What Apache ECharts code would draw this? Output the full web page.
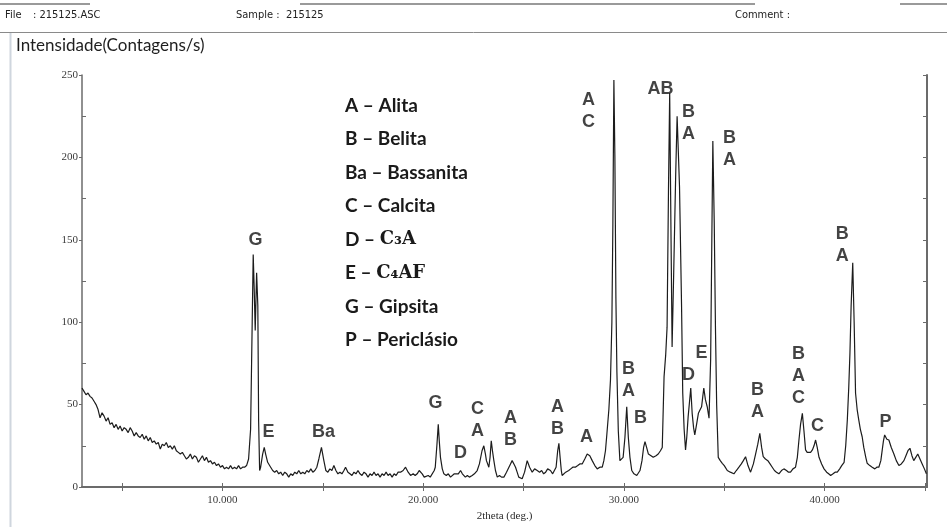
<!DOCTYPE html>
<html>
<head>
<meta charset="utf-8">
<script src="https://cdn.jsdelivr.net/npm/echarts@6/dist/echarts.min.js"></script>
<style>
  html, body { margin: 0; padding: 0; background: #fff; }
  #chart { width: 947px; height: 527px; }
</style>
</head>
<body>
<div id="chart"></div>
<script>
// XRD scan of sample 215125: [2theta (deg), counts/s], split by angular range
const scan03to12 = [
  [3.0,60],[3.1,58],[3.2,56],[3.3,57],[3.4,55],[3.5,54],[3.6,52],[3.7,50],[3.8,47],[3.9,42],
  [4.0,45],[4.1,43],[4.2,40],[4.3,42],[4.4,38],[4.5,39],[4.6,36],[4.7,38],[4.8,35],[4.9,37],
  [5.0,34],[5.1,36],[5.2,35],[5.3,33],[5.4,36],[5.5,34],[5.6,31],[5.7,33],[5.8,31],[5.9,30],
  [6.0,32],[6.1,29],[6.2,31],[6.3,28],[6.4,30],[6.5,27],[6.6,28],[6.7,26],[6.8,27],[6.9,23],
  [7.0,26],[7.1,25],[7.2,27],[7.3,24],[7.4,25],[7.5,23],[7.6,25],[7.7,22],[7.8,21],[7.9,20],
  [8.0,21],[8.1,19],[8.2,17],[8.3,18],[8.4,20],[8.5,17],[8.6,19],[8.7,18],[8.8,15],[8.9,17],
  [9.0,19],[9.1,16],[9.2,18],[9.3,15],[9.4,16],[9.5,14],[9.6,15],[9.7,13],[9.8,14],[9.9,12],
  [10.0,13],[10.1,11],[10.2,12],[10.3,11],[10.4,13],[10.5,11],[10.6,12],[10.7,11],[10.8,13],[10.9,11],
  [11.0,12],[11.1,12],[11.2,13],[11.3,17],[11.4,35],[11.48,100],[11.53,141],[11.58,120],[11.63,95],
  [11.7,130],[11.76,110],[11.8,40],[11.85,10],[11.9,12],[12.0,20]
];
const scan12to20 = [
  [12.08,24],[12.15,20],[12.25,15],[12.4,12],[12.5,10],[12.6,9],[12.7,10],[12.8,8],[12.9,9],
  [13.0,7],[13.1,9],[13.2,8],[13.3,6],[13.4,8],[13.5,7],[13.6,9],[13.7,8],[13.8,10],[13.9,8],
  [14.0,9],[14.1,8],[14.2,10],[14.3,9],[14.4,11],[14.5,9],[14.6,10],[14.7,12],[14.8,17],[14.93,24],
  [15.05,16],[15.15,10],[15.25,9],[15.35,11],[15.45,10],[15.55,13],[15.65,10],[15.75,8],[15.85,9],
  [15.95,8],[16.05,10],[16.13,12],[16.25,9],[16.35,8],[16.45,7],[16.55,9],[16.65,8],[16.75,10],
  [16.85,8],[16.95,7],[17.05,9],[17.15,8],[17.25,6],[17.35,8],[17.45,7],[17.55,9],[17.65,7],
  [17.75,8],[17.85,6],[17.95,8],[18.05,7],[18.15,9],[18.25,7],[18.35,8],[18.45,6],[18.55,8],
  [18.65,7],[18.75,9],[18.87,9],[19.0,10],[19.12,12],[19.25,9],[19.37,7],[19.5,8],[19.6,7],
  [19.7,8],[19.8,10],[19.87,10],[19.95,8]
];
const scan20to29 = [
  [20.05,6],[20.11,6],[20.25,7],[20.35,6],[20.44,7],[20.55,10],[20.6,12],[20.68,25],[20.75,38],
  [20.8,28],[20.86,18],[20.95,11],[21.03,8],[21.15,7],[21.25,8],[21.36,6],[21.45,7],[21.55,8],
  [21.61,7],[21.75,8],[21.86,10],[21.95,8],[22.1,6],[22.2,7],[22.3,6],[22.44,7],[22.55,8],
  [22.69,10],[22.8,14],[22.93,22],[23.02,25],[23.1,20],[23.15,16],[23.27,12],[23.33,18],[23.39,28],
  [23.45,22],[23.52,16],[23.6,10],[23.69,6],[23.8,7],[23.9,6],[24.02,6],[24.15,9],[24.27,12],
  [24.35,14],[24.43,16],[24.52,14],[24.6,12],[24.68,9],[24.76,6],[24.85,6],[24.93,5],[25.05,9],
  [25.18,16],[25.3,12],[25.43,9],[25.55,11],[25.68,10],[25.8,9],[25.9,10],[26.0,8],[26.1,9],
  [26.2,11],[26.34,10],[26.45,8],[26.54,7],[26.62,12],[26.7,22],[26.76,26.5],[26.82,18],[26.88,10],
  [26.92,7],[27.0,8],[27.1,9],[27.25,10],[27.35,11],[27.45,12],[27.58,12],[27.7,13],[27.8,14],
  [27.92,14],[28.05,17],[28.17,20],[28.3,19],[28.42,16],[28.55,13],[28.67,11],[28.8,12],[28.92,12]
];
const scan29to35 = [
  [29.0,16],[29.08,22],[29.15,32],[29.25,47],[29.33,65],[29.4,100],[29.45,160],[29.5,247],[29.55,200],
  [29.6,115],[29.65,70],[29.72,34],[29.8,16],[29.88,17],[29.96,18],[30.05,30],[30.14,48.7],[30.22,30],
  [30.3,18],[30.39,10],[30.5,8],[30.64,7],[30.8,10],[30.9,16],[30.98,24],[31.05,27.5],[31.13,24],
  [31.22,20],[31.35,19],[31.46,18],[31.6,19],[31.71,20],[31.82,22],[31.91,24],[32.0,67],[32.08,80],
  [32.15,97],[32.22,180],[32.28,239],[32.34,160],[32.4,85],[32.48,130],[32.58,190],[32.65,225],
  [32.72,200],[32.77,182],[32.87,111],[32.93,57],[33.0,35],[33.07,22.5],[33.13,30],[33.2,42.7],
  [33.27,52],[33.33,60],[33.4,44.7],[33.47,36],[33.53,31.6],[33.62,38],[33.71,44.7],[33.8,47],
  [33.87,48.7],[33.93,55],[33.98,60],[34.06,53],[34.15,48.7],[34.24,41.7],[34.32,77],[34.38,150],
  [34.43,210],[34.5,160],[34.56,97],[34.62,50],[34.7,18],[34.8,16],[34.9,14.4]
];
const scan35to45 = [
  [35.0,13],[35.15,10],[35.3,9],[35.48,8],[35.6,10],[35.73,12],[35.85,14],[35.95,16],[36.06,18.4],
  [36.18,13],[36.31,9],[36.45,14],[36.56,20],[36.67,26],[36.77,32.6],[36.86,24],[36.94,18.4],
  [37.05,17],[37.17,16],[37.28,14],[37.39,12],[37.5,10],[37.6,9],[37.72,8],[37.85,10],[37.97,11],
  [38.1,10],[38.2,9],[38.3,9],[38.42,11],[38.55,12],[38.64,18],[38.72,28.5],[38.8,38],[38.89,44.7],
  [38.97,34],[39.05,22.5],[39.13,21],[39.22,20],[39.3,21],[39.39,22.5],[39.47,25],[39.55,28.5],
  [39.63,24],[39.72,18],[39.85,14],[39.97,11],[40.1,9],[40.2,8],[40.3,7],[40.42,8],[40.52,9],
  [40.63,9],[40.75,11],[40.85,13],[40.97,15],[41.05,25],[41.13,40.7],[41.2,60],[41.26,81],
  [41.32,110],[41.4,136],[41.47,100],[41.54,57],[41.62,47],[41.7,40.7],[41.78,35],[41.87,30.5],
  [41.95,24],[42.05,18],[42.12,14.4],[42.25,13],[42.37,12],[42.5,11],[42.6,12],[42.7,12],[42.8,16],
  [42.87,22.5],[42.93,28],[42.99,31.6],[43.1,29],[43.2,28.5],[43.32,24],[43.45,20],[43.57,16],
  [43.7,13],[43.82,14],[43.95,16],[44.05,19],[44.15,22],[44.25,23.5],[44.35,19],[44.44,16],
  [44.54,18],[44.64,20],[44.75,17],[44.86,14],[44.97,11],[45.07,8]
];

// Phase identification tags: [2theta, intensity at tag centre, letters]
const peakTags = [
  [11.64, 150, 'G'], [12.29, 33.5, 'E'], [15.03, 33.5, 'Ba'], [20.61, 51, 'G'],
  [21.86, 20.5, 'D'], [22.7, 40.7, 'C\nA'], [24.35, 34.9, 'A\nB'], [26.69, 41.6, 'A\nB'],
  [28.14, 30.3, 'A'], [28.24, 228, 'A\nC'], [31.82, 241.5, 'AB'], [33.22, 220.6, 'B\nA'],
  [35.26, 205, 'B\nA'], [30.23, 65, 'B\nA'], [30.83, 41.9, 'B'], [33.22, 68, 'D'],
  [33.87, 81.3, 'E'], [36.66, 52.2, 'B\nA'], [38.7, 67.4, 'B\nA\nC'], [39.64, 37, 'C'],
  [40.88, 146.8, 'B\nA'], [43.03, 39.4, 'P']
];

// Phase key
const phaseCodes = ['A', 'B', 'Ba', 'C', 'D', 'E', 'G', 'P'];
const phaseNames = ['Alita', 'Belita', 'Bassanita', 'Calcita', 'C₃A', 'C₄AF', 'Gipsita', 'Periclásio'];
const formulaPhases = ['C₃A', 'C₄AF'];

// Axis ticks
const xTickValues = [5, 10, 15, 20, 25, 30, 35, 40, 45];
const xLabelValues = [10, 20, 30, 40];
const yMajorValues = [0, 50, 100, 150, 200, 250];
const yMinorValues = [25, 75, 125, 175, 225];

const scan = [].concat(scan03to12, scan12to20, scan20to29, scan29to35, scan35to45);

const chart = echarts.init(document.getElementById('chart'), null, { renderer: 'canvas' });

const axisColor = '#6b6b6b';
const tickFont = { fontFamily: 'Liberation Serif', fontSize: 11, color: '#3a3a3a' };
const headerFont = '11px "Liberation Sans Narrow", "DejaVu Sans Condensed", sans-serif';

const keyLines = phaseCodes.map((code, i) => {
  const name = phaseNames[i];
  const isFormula = formulaPhases.indexOf(name) >= 0;
  return {
    type: 'text',
    left: 345,
    top: 96 + i * 33.5,
    style: {
      text: isFormula ? '{t|' + code + ' – }{f|' + name + '}' : '{t|' + code + ' – ' + name + '}',
      rich: {
        t: { fontFamily: 'Lato', fontSize: 19, fontWeight: 'bold', fill: '#1a1a1a' },
        f: { fontFamily: 'DejaVu Serif', fontSize: 18, fontWeight: 'bold', fill: '#1a1a1a' }
      }
    }
  };
});

const option = {
  animation: false,
  backgroundColor: '#ffffff',
  grid: { left: 82, right: 20, top: 75, bottom: 40 },
  xAxis: [
    {
      type: 'value', position: 'bottom', min: 3, max: 45.1,
      axisLine: { lineStyle: { color: axisColor, width: 1.5 } },
      axisTick: { inside: true, length: 4, customValues: xTickValues, lineStyle: { color: axisColor } },
      axisLabel: Object.assign({ customValues: xLabelValues, margin: 8,
        formatter: v => v.toFixed(3) }, tickFont),
      splitLine: { show: false },
      name: '2theta (deg.)', nameLocation: 'middle', nameGap: 24,
      nameTextStyle: { fontFamily: 'Liberation Serif', fontSize: 11, color: '#2a2a2a' }
    },
    {
      type: 'value', position: 'top', min: 3, max: 45.1,
      axisLine: { lineStyle: { color: axisColor, width: 2 } },
      axisTick: { inside: true, length: 4, customValues: xTickValues, lineStyle: { color: axisColor } },
      axisLabel: { show: false }, splitLine: { show: false }
    }
  ],
  yAxis: [
    {
      type: 'value', position: 'left', min: 0, max: 250,
      axisLine: { show: true, lineStyle: { color: axisColor, width: 1.5 } },
      axisTick: { show: true, inside: false, length: 3, customValues: yMajorValues, lineStyle: { color: axisColor } },
      axisLabel: Object.assign({ customValues: yMajorValues, margin: 4 }, tickFont),
      splitLine: { show: false }
    },
    {
      type: 'value', position: 'right', min: 0, max: 250,
      axisLine: { show: true, lineStyle: { color: axisColor, width: 2 } },
      axisTick: { show: true, inside: true, length: 4, customValues: yMinorValues.concat(yMajorValues), lineStyle: { color: axisColor } },
      axisLabel: { show: false }, splitLine: { show: false }
    },
    {
      type: 'value', position: 'left', min: 0, max: 250,
      axisLine: { show: false },
      axisTick: { show: true, inside: true, length: 4, customValues: yMinorValues, lineStyle: { color: axisColor } },
      axisLabel: { show: false }, splitLine: { show: false }
    }
  ],
  series: [
    {
      type: 'line', xAxisIndex: 0, yAxisIndex: 0,
      data: scan, showSymbol: false, smooth: false,
      lineStyle: { color: '#1c1c1c', width: 1.2 }
    },
    {
      type: 'scatter', xAxisIndex: 0, yAxisIndex: 0,
      data: peakTags, symbolSize: 1, itemStyle: { color: 'rgba(0,0,0,0)' },
      label: {
        show: true, position: 'inside',
        formatter: p => p.data[2],
        fontFamily: 'Liberation Sans', fontSize: 18, fontWeight: 'bold',
        lineHeight: 22, color: '#141414', align: 'center', verticalAlign: 'middle'
      },
      z: 5
    }
  ],
  graphic: [
    // report header strip
    { type: 'rect', shape: { x: 0, y: 3, width: 90, height: 2 }, style: { fill: '#9a9a9a' } },
    { type: 'rect', shape: { x: 300, y: 3, width: 455, height: 2 }, style: { fill: '#9a9a9a' } },
    { type: 'rect', shape: { x: 900, y: 3, width: 47, height: 2 }, style: { fill: '#9a9a9a' } },
    { type: 'text', left: 5, top: 10, style: { text: 'File', font: headerFont, fill: '#222' } },
    { type: 'text', left: 33, top: 10, style: { text: ': 215125.ASC', font: headerFont, fill: '#222' } },
    { type: 'text', left: 236, top: 10, style: { text: 'Sample :  215125', font: headerFont, fill: '#222' } },
    { type: 'text', left: 735, top: 10, style: { text: 'Comment :', font: headerFont, fill: '#222' } },
    { type: 'line', shape: { x1: 0, y1: 32.5, x2: 947, y2: 32.5 }, style: { stroke: '#8a8a8a', lineWidth: 1 } },
    { type: 'line', shape: { x1: 10.5, y1: 33, x2: 10.5, y2: 527 }, style: { stroke: '#cfd6de', lineWidth: 2 } },
    { type: 'text', left: 16, top: 37, style: { text: 'Intensidade(Contagens/s)', font: '17px Lato, sans-serif', fill: '#1e1e1e' } }
  ].concat(keyLines)
};

chart.setOption(option);
</script>
</body>
</html>
